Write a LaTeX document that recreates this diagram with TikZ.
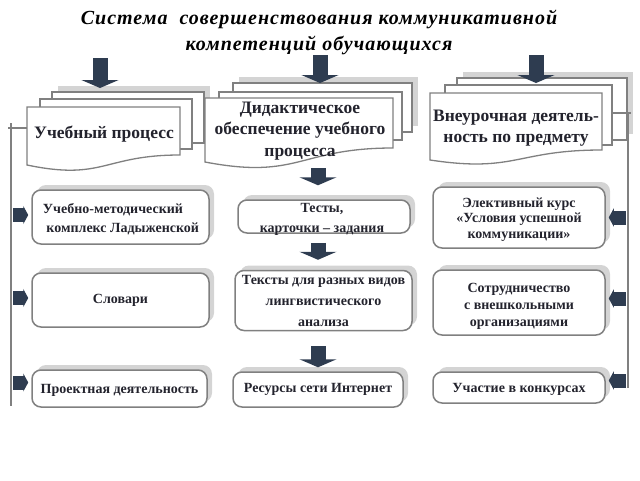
\documentclass[tikz,border=0pt]{standalone}
\usepackage{fontspec}
\setmainfont{Liberation Serif}
\newfontfamily\titlefont[LetterSpace=5]{Liberation Serif}
\usetikzlibrary{arrows.meta,shadows,calc}
\definecolor{arrowc}{RGB}{46,60,80}
\definecolor{linec}{RGB}{128,128,128}
\definecolor{shadowc}{RGB}{212,212,212}
\definecolor{txtc}{RGB}{35,35,45}
\begin{document}
\begin{tikzpicture}[x=1pt,y=-1pt,
  box/.style={draw=linec, line width=1.5pt, rounded corners=9pt, fill=white,
    font=\bfseries\fontsize{14}{19}\selectfont, text=txtc, align=center, inner sep=0pt,
    drop shadow={shadow xshift=5pt,shadow yshift=5pt,fill=shadowc,opacity=1}},
  boxtext/.style={font=\bfseries\fontsize{14}{19}\selectfont, text=txtc, align=center, inner sep=0pt},
  doc/.style={draw=linec, line width=1.3pt, fill=white},
  docshadow/.style={fill=shadowc},
  doctext/.style={font=\bfseries\fontsize{17.5}{21.5}\selectfont, text=txtc, align=center},
  bigarrow/.style={draw=arrowc, line width=15pt, -{Triangle[width=37pt,length=8pt]}},
  smallarrow/.style={draw=arrowc, line width=14pt, -{Triangle[width=18pt,length=5pt]}},
  link/.style={draw=linec, line width=2.5pt}]
\useasboundingbox (0,0) rectangle (640,480);

% title
\node[font=\titlefont\bfseries\itshape\fontsize{20}{26}\selectfont, text=black, align=center] (title) at (319,32)
  {Система\ \ совершенствования коммуникативной\\компетенций обучающихся};

% ---- left document stack
\fill[docshadow] (58,86) rectangle (210,137);
\draw[doc] (52,92) rectangle (204,143);
\draw[doc] (40,99) rectangle (192,149);
\draw[doc] (27,107) -- (180,107) -- (180,155) .. controls (103.5,155) and (103.5,181) .. (27,165) -- cycle;
\node[doctext] (g1) at (104,134) {Учебный процесс};
\coordinate (g1w) at (27,128);

% ---- middle document stack
\fill[docshadow] (239,77) rectangle (418,126);
\draw[doc] (233,83) rectangle (412,132);
\draw[doc] (219,92) rectangle (402,140);
\draw[doc] (205,98) -- (393,98) -- (393,148) .. controls (299,148) and (299,180) .. (205,162) -- cycle;
\node[doctext] (g2) at (300,131) {Дидактическое\\обеспечение учебного\\процесса};
\coordinate (g2s) at (318,162);

% ---- right document stack
\fill[docshadow] (463,72) rectangle (633,134);
\draw[doc] (457,78) rectangle (627,140);
\draw[doc] (445,85) rectangle (612,145);
\draw[doc] (430,93) -- (602,93) -- (602,150) .. controls (516,150) and (516,173) .. (430,160) -- cycle;
\node[doctext] (g3) at (516,128) {Внеурочная деятель-\\ность по предмету};
\coordinate (g3e) at (612,113);

% ---- boxes
\node[box, minimum width=177pt, minimum height=54pt] (l1) at (120.5,217) {};
\node[boxtext, align=left] (l1t) at (121,219) {Учебно-методический\\\ комплекс Ладыженской};
\node[box, minimum width=177pt, minimum height=54pt] (l2) at (120.5,300) {Словари};
\node[box, minimum width=175pt, minimum height=37pt] (l3) at (119.5,388.5) {};
\node[boxtext] (l3t) at (119.5,390) {Проектная деятельность};

\node[box, minimum width=172pt, minimum height=33pt] (m1) at (324,216.5) {};
\node[boxtext, font=\bfseries\fontsize{14}{20.5}\selectfont] (m1t) at (322,219.5) {Тесты,\\карточки – задания};
\node[box, minimum width=177pt, minimum height=60pt, font=\bfseries\fontsize{14}{21}\selectfont] (m2) at (323.5,300.5)
  {Тексты для разных видов\\лингвистического\\анализа};
\node[box, minimum width=170pt, minimum height=35pt] (m3) at (318,389.5) {Ресурсы сети Интернет};

\node[box, minimum width=172pt, minimum height=61pt] (r1) at (519,217.5) {};
\node[boxtext, font=\bfseries\fontsize{14}{15.5}\selectfont] (r1t) at (519,219.5) {Элективный курс\\«Условия успешной\\коммуникации»};
\node[box, minimum width=172pt, minimum height=65pt] (r2) at (519,302.5) {};
\node[boxtext, font=\bfseries\fontsize{14}{17}\selectfont] (r2t) at (519,306.5) {Сотрудничество\\с внешкольными\\организациями};
\node[box, minimum width=172pt, minimum height=31pt] (r3) at (519,387.5) {};
\node[boxtext] (r3t) at (519,389.5) {Участие в конкурсах};

% ---- top arrows
\coordinate (t1) at (100,58); \coordinate (t2) at (320,55); \coordinate (t3) at (536,55);
\draw[bigarrow] (t1) -- (100,88);
\draw[bigarrow] (t2) -- (320,83);
\draw[bigarrow] (t3) -- (536,83);

% ---- middle arrows
\coordinate (ax) at (318,0);
\draw[bigarrow, shorten <=6pt, shorten >=14pt] (g2s) -- (m1.north -| ax);
\draw[bigarrow, shorten <=9pt, shorten >=10pt] (m1.south -| ax) -- (m2.north -| ax);
\draw[bigarrow, shorten <=15pt, shorten >=4pt] (m2.south -| ax) -- (m3.north -| ax);

% ---- left connector line
\coordinate (lt) at (11,123); \coordinate (lb) at (11,406);
\draw[link] (lt) -- (lb);
\draw[link] (g1w) -- (g1w -| 8,0);
\draw[smallarrow, shorten >=3pt] ($(l1.west -| lt)+(2,-2)$) -- ($(l1.west)+(0,-2)$);
\draw[smallarrow, shorten >=3pt] ($(l2.west -| lt)+(2,-2)$) -- ($(l2.west)+(0,-2)$);
\draw[smallarrow, shorten >=3pt] ($(l3.west -| lt)+(2,-6)$) -- ($(l3.west)+(0,-6)$);

% ---- right connector line
\coordinate (rt) at (628,113); \coordinate (rb) at (628,388);
\draw[link] (rt) -- (rb);
\draw[link] (g3e) -- (631,113);
\draw[smallarrow, shorten >=3pt] ($(r1.east -| rt)+(-2,0)$) -- (r1.east);
\draw[smallarrow, shorten >=3pt] ($(r2.east -| rt)+(-2,-4)$) -- ($(r2.east)+(0,-4)$);
\draw[smallarrow, shorten >=3pt] ($(r3.east -| rt)+(-2,-7)$) -- ($(r3.east)+(0,-7)$);
\end{tikzpicture}
\end{document}
